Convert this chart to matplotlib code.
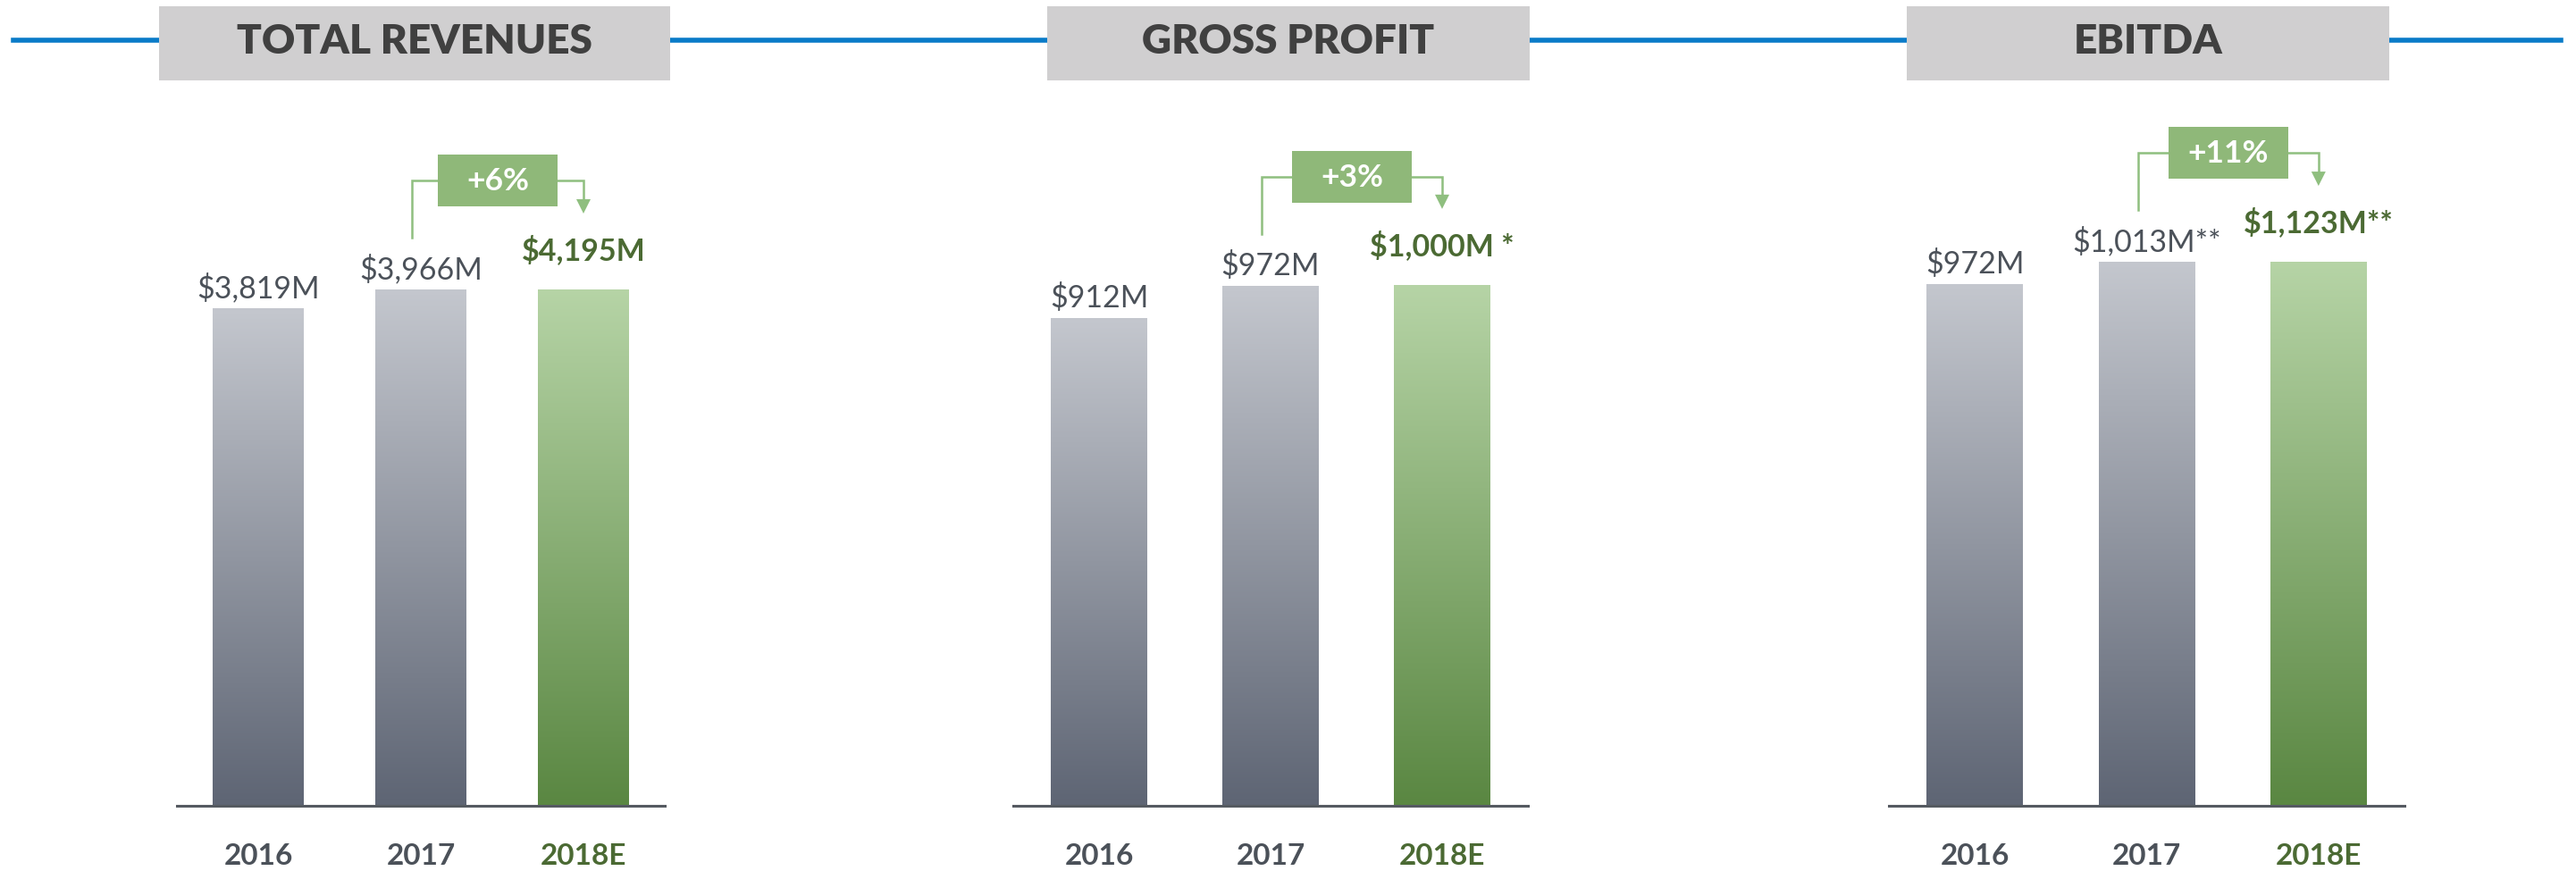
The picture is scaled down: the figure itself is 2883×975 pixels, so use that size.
import numpy as np
import matplotlib
matplotlib.use("Agg")
import matplotlib.pyplot as plt
from matplotlib.colors import LinearSegmentedColormap
from matplotlib.patches import Rectangle, Polygon
from matplotlib.lines import Line2D

# data
years = ["2016", "2017", "2018E"]
titles = ["TOTAL REVENUES", "GROSS PROFIT", "EBITDA"]

revenue_labels = ["$3,819M", "$3,966M", "$4,195M"]
gross_labels = ["$912M", "$972M", "$1,000M *"]
ebitda_labels = ["$972M", "$1,013M**", "$1,123M**"]

# bar heights as drawn (the 2018E bar is drawn level with 2017 in the source)
revenue_bars = [3819, 3966, 3966]
gross_bars = [912, 972, 974]
ebitda_bars = [972, 1013, 1013]

growth = ["+6%", "+3%", "+11%"]

labels_all = [revenue_labels, gross_labels, ebitda_labels]
bars_all = [revenue_bars, gross_bars, ebitda_bars]

# layout in pixels (figure is 2883 x 975)
W, H = 2883, 975
DPI = 100
FONT = "Lato"
base_y = 901.5                       # baseline, px from top
axes_px = [(198, 744), (1134, 1710), (2114, 2691)]
title_boxes = [(178, 750), (1172, 1712), (2134, 2674)]
ymax = [6191, 1507, 1501]

GRAY_TXT = "#4b5159"
GREEN_TXT = "#4b6a33"
gray_cmap = LinearSegmentedColormap.from_list("g", ["#5e6574", "#c4c7ce"])
green_cmap = LinearSegmentedColormap.from_list("gr", ["#5a8742", "#b6d4a6"])

fig = plt.figure(figsize=(W / DPI, H / DPI), dpi=DPI)

# blue rule across the top
fig.add_artist(Line2D([15 / W, 2866 / W], [1 - 45 / H, 1 - 45 / H],
                      color="#0a7bc8", lw=4, zorder=1))

for k in range(3):
    # title box
    bx0, bx1 = title_boxes[k]
    fig.add_artist(Rectangle((bx0 / W, 1 - 90 / H), (bx1 - bx0) / W, 83 / H,
                             transform=fig.transFigure, facecolor="#d0cfd0",
                             edgecolor="none", zorder=2))
    fig.text((bx0 + bx1) / 2 / W, 1 - 60 / H, titles[k], ha="center",
             va="baseline", fontsize=33, fontweight="heavy", color="#404040",
             family=FONT, zorder=3)

    x0, x1 = axes_px[k]
    ax = fig.add_axes([x0 / W, 1 - base_y / H, (x1 - x0) / W, base_y / H])
    ax.set_xlim(-0.5, 2.5)
    ax.set_ylim(0, ymax[k])
    ax.patch.set_visible(False)
    for s in ["top", "left", "right"]:
        ax.spines[s].set_visible(False)
    ax.spines["bottom"].set_color("#555a61")
    ax.spines["bottom"].set_linewidth(2.2)
    ax.spines["bottom"].set_zorder(5)
    ax.set_xticks([])
    ax.set_yticks([])

    # pixel -> data helpers
    dy = ymax[k] / base_y
    dx = 3.0 / (x1 - x0)

    vals = bars_all[k]
    labs = labels_all[k]
    bars = ax.bar(range(3), vals, width=0.56, color="none", edgecolor="none")
    grad = np.linspace(0, 1, 256).reshape(-1, 1)
    for i, b in enumerate(bars):
        cm = green_cmap if i == 2 else gray_cmap
        im = ax.imshow(grad, cmap=cm, origin="lower", aspect="auto",
                       extent=(b.get_x(), b.get_x() + b.get_width(), 0, b.get_height()),
                       zorder=2)
        im.set_clip_path(b)
        if i == 2:
            ax.text(i, vals[i] + 33 * dy, labs[i], ha="center", va="baseline",
                    fontsize=24.5, fontweight="bold", color=GREEN_TXT, family=FONT)
        else:
            ax.text(i, vals[i] + 12 * dy, labs[i], ha="center", va="baseline",
                    fontsize=24.5, color=GRAY_TXT, family=FONT)
        ax.text(i, -66.5 * dy, years[i], ha="center", va="baseline",
                fontsize=24, fontweight="bold",
                color=GREEN_TXT if i == 2 else GRAY_TXT, family=FONT, clip_on=False)
    ax.set_xlim(-0.5, 2.5)
    ax.set_ylim(0, ymax[k])

    # growth bracket from 2017 to 2018E
    xl = 1 - 10 * dx
    xr = 2
    yh = vals[1] + 122 * dy
    yb = vals[1] + 58 * dy
    tip = vals[2] + 85 * dy
    head = 16 * dy
    lc = "#8fbf7f"
    ax.plot([xl, xl, xr, xr], [yb, yh, yh, tip + head], color=lc, lw=1.8,
            solid_joinstyle="miter", clip_on=False, zorder=3)
    ax.add_patch(Polygon([(xr - 8 * dx, tip + head), (xr + 8 * dx, tip + head), (xr, tip)],
                         closed=True, facecolor=lc, edgecolor="none", clip_on=False, zorder=3))
    xm = (xl + xr) / 2
    ax.add_patch(Rectangle((xm - 67 * dx, yh - 29 * dy), 134 * dx, 58 * dy,
                           facecolor="#8fb879", edgecolor="none", clip_on=False, zorder=4))
    ax.text(xm, yh - 11 * dy, growth[k], ha="center", va="baseline", fontsize=25.5,
            fontweight="bold", color="white", family=FONT, zorder=5)

fig.savefig("out.png", dpi=DPI)
